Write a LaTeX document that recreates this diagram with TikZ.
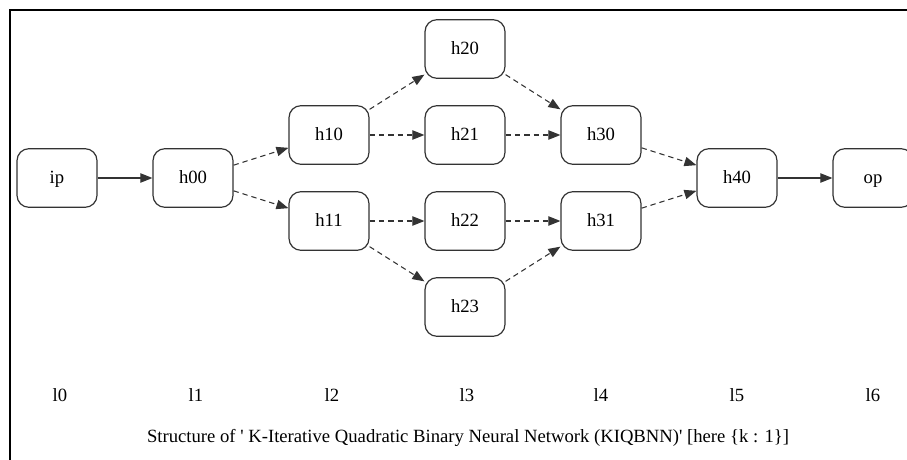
\documentclass[tikz,border=0pt]{standalone}
\usepackage{fontspec}
\setmainfont{Liberation Serif}
\usetikzlibrary{arrows.meta}
\tikzset{
  layer/.style={draw=black!80,line width=0.9pt,rounded corners=9pt,minimum width=60pt,minimum height=44pt,text height=2.1ex,text depth=0.4ex,font=\fontsize{14}{16}\selectfont},
  dflow/.style={draw=black!80,line width=0.8pt,dash pattern=on 4pt off 3pt,-{Triangle[length=9pt,width=7pt]}},
  sflow/.style={draw=black!80,line width=0.8pt,-{Triangle[length=9pt,width=7pt]}},
  lvl/.style={font=\fontsize{14}{16}\selectfont}
}
\begin{document}
\begin{tikzpicture}[x=0.75pt,y=-0.75pt]
\useasboundingbox (0,0) rectangle (907,460);
\draw[line width=1.4pt] (10,460) -- (10,10) -- (907,10);
\node[layer] (ip) at (57,178) {ip};
\node[layer] (h00) at (193,178) {h00};
\node[layer] (h10) at (329,135) {h10};
\node[layer] (h11) at (329,221) {h11};
\node[layer] (h20) at (465,49) {h20};
\node[layer] (h21) at (465,135) {h21};
\node[layer] (h22) at (465,221) {h22};
\node[layer] (h23) at (465,307) {h23};
\node[layer] (h30) at (601,135) {h30};
\node[layer] (h31) at (601,221) {h31};
\node[layer] (h40) at (737,178) {h40};
\node[layer] (op) at (873,178) {op};
\draw[sflow] (ip) -- (h00);
\draw[dflow] (h00) -- (h10);
\draw[dflow] (h00) -- (h11);
\draw[dflow] (h10) -- (h20);
\draw[dflow] (h10) -- (h21);
\draw[dflow] (h11) -- (h22);
\draw[dflow] (h11) -- (h23);
\draw[dflow] (h20) -- (h30);
\draw[dflow] (h21) -- (h30);
\draw[dflow] (h22) -- (h31);
\draw[dflow] (h23) -- (h31);
\draw[dflow] (h30) -- (h40);
\draw[dflow] (h31) -- (h40);
\draw[sflow] (h40) -- (op);
\node[lvl] (l0) at (60,395) {l0};
\node[lvl] (l1) at (196,395) {l1};
\node[lvl] (l2) at (332,395) {l2};
\node[lvl] (l3) at (467,395) {l3};
\node[lvl] (l4) at (601,395) {l4};
\node[lvl] (l5) at (737,395) {l5};
\node[lvl] (l6) at (873,395) {l6};
\node[lvl] (title) at (468,438) {Structure of \textquotesingle{} K-Iterative Quadratic Binary Neural Network (KIQBNN)\textquotesingle{} [here \{k : 1\}]};
\end{tikzpicture}
\end{document}
